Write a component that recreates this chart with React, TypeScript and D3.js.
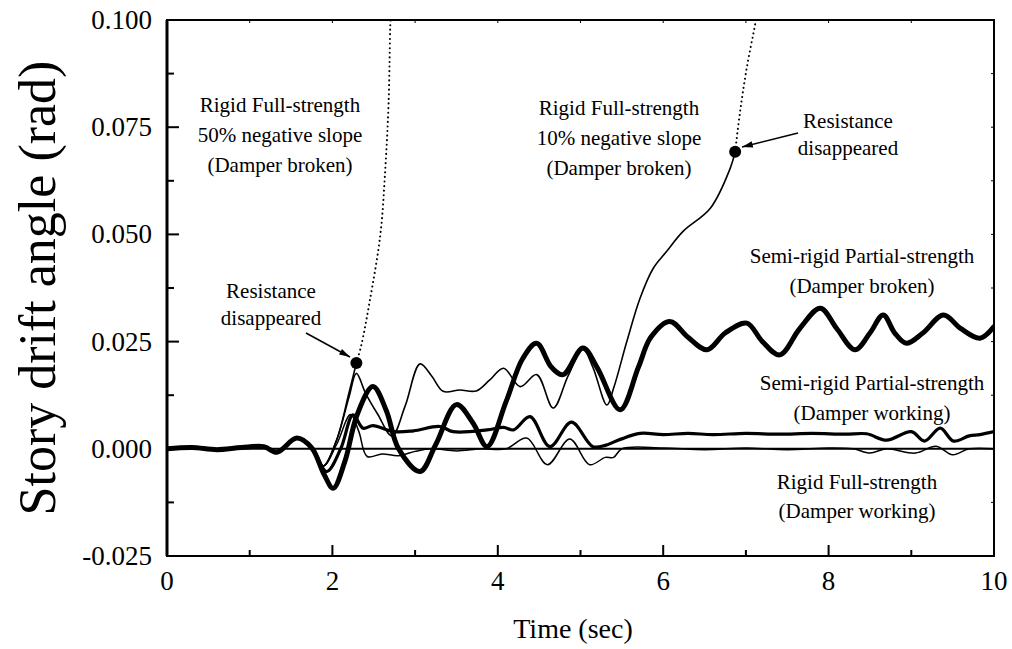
import React from "react";
import * as d3 from "d3";

type P = [number, number];

// ---- data (time sec, story drift angle rad) ----
const preEvent: P[] = [
  [0, 0], [0.3, 0.0003], [0.6, -0.0002], [0.9, 0.0003], [1.17, 0.0005],
  [1.33, -0.0008], [1.57, 0.0025], [1.75, 0.0002],
];

const semiBroken: P[] = [
  ...preEvent,
  [1.9, -0.006], [2.01, -0.0092], [2.15, -0.003], [2.3, 0.008], [2.49, 0.0145],
  [2.65, 0.009], [2.8, 0.0], [3.06, -0.0053], [3.25, 0.001], [3.5, 0.0103],
  [3.7, 0.006], [3.87, 0.0005], [4.1, 0.011], [4.3, 0.021], [4.47, 0.0246],
  [4.65, 0.019], [4.79, 0.0173], [5.03, 0.0235], [5.2, 0.019], [5.48, 0.0091],
  [5.7, 0.019], [5.85, 0.026], [6.08, 0.0297], [6.3, 0.026], [6.53, 0.0231],
  [6.75, 0.027], [7.01, 0.0293], [7.2, 0.025], [7.41, 0.0219], [7.65, 0.028],
  [7.9, 0.0328], [8.1, 0.028], [8.32, 0.0231], [8.5, 0.027], [8.66, 0.0312],
  [8.8, 0.027], [8.94, 0.0246], [9.14, 0.027], [9.39, 0.0312], [9.6, 0.028],
  [9.83, 0.0258], [10, 0.0285],
];

const semiWorking: P[] = [
  ...preEvent,
  [1.93, -0.0053], [2.1, 0.0], [2.25, 0.0079], [2.37, 0.0048], [2.49, 0.0054],
  [2.74, 0.004], [2.98, 0.0042], [3.3, 0.0052], [3.46, 0.004], [3.87, 0.0044],
  [4.07, 0.005], [4.19, 0.0044], [4.39, 0.0075], [4.63, 0.0005], [4.89, 0.0062],
  [5.15, 0.0005], [5.3, 0.0008], [5.48, 0.0022], [5.72, 0.0036], [6.0, 0.0033],
  [6.3, 0.0036], [6.6, 0.0033], [7.0, 0.0036], [7.4, 0.0034], [7.8, 0.0036],
  [8.2, 0.0034], [8.46, 0.0035], [8.7, 0.002], [9.0, 0.004], [9.16, 0.0018],
  [9.35, 0.0048], [9.51, 0.0018], [9.7, 0.003], [9.83, 0.0033], [10, 0.004],
];

const rigidWorking: P[] = [
  ...preEvent,
  [1.89, -0.004], [2.05, 0.001], [2.22, 0.008], [2.32, 0.004], [2.42, -0.0018],
  [2.6, -0.0012], [2.8, -0.0016], [3.0, -0.0006], [3.2, 0.0], [3.5, -0.0005],
  [3.8, 0.0], [4.1, 0.0], [4.35, 0.0025], [4.6, -0.0037], [4.87, 0.0023],
  [5.11, -0.0037], [5.3, -0.002], [5.4, -0.002], [5.5, 0.0], [6.0, 0.0002],
  [6.5, -0.0002], [7.0, 0.0002], [7.5, -0.0002], [8.0, 0.0002], [8.3, 0.0],
  [8.5, -0.001], [8.7, 0.0], [9.05, -0.001], [9.3, 0.0006], [9.5, -0.0014],
  [9.7, 0.0], [10, 0.0],
];

const rigid10Solid: P[] = [
  ...preEvent,
  [1.89, -0.004], [2.05, 0.002], [2.2, 0.012], [2.29, 0.0176], [2.4, 0.013],
  [2.55, 0.008], [2.72, 0.003], [2.88, 0.01], [3.06, 0.0198], [3.2, 0.017],
  [3.34, 0.0134], [3.54, 0.0137], [3.74, 0.0135], [3.9, 0.016], [4.07, 0.0188],
  [4.27, 0.0145], [4.47, 0.0173], [4.67, 0.0095], [4.85, 0.017], [5.03, 0.0232],
  [5.15, 0.019], [5.32, 0.0102], [5.4, 0.0141], [5.56, 0.025], [5.72, 0.0351],
  [5.88, 0.0421], [6.04, 0.046], [6.24, 0.0507], [6.57, 0.0561], [6.81, 0.0654],
  [6.87, 0.0693],
];
const rigid10Dotted: P[] = [
  [6.87, 0.0693], [6.93, 0.0787], [7.01, 0.0888], [7.11, 0.0988], [7.125, 0.1005],
];

const rigid50Solid: P[] = [
  ...preEvent,
  [1.89, -0.004], [2.05, 0.002], [2.2, 0.013], [2.29, 0.02],
];
const rigid50Dotted: P[] = [
  [2.29, 0.02], [2.35, 0.0242], [2.45, 0.0343], [2.58, 0.05], [2.64, 0.0654],
  [2.68, 0.081], [2.7, 0.0988], [2.705, 0.1005],
];

const breakPoints: P[] = [[2.29, 0.02], [6.87, 0.0693]];

const xMajor = [0, 2, 4, 6, 8, 10];
const xMinor = [1, 3, 5, 7, 9];
const yMajor = [-0.025, 0, 0.025, 0.05, 0.075, 0.1];
const yMinor = [-0.0125, 0.0125, 0.0375, 0.0625, 0.0875];
const yTickLabels = ["-0.025", "0.000", "0.025", "0.050", "0.075", "0.100"];
const xTickLabels = ["0", "2", "4", "6", "8", "10"];

const FONT = "'Liberation Serif', 'Times New Roman', serif";

export default function App() {
  const W = 1012, H = 649;
  const L = 167, R = 994, T = 20, B = 556;
  const x = d3.scaleLinear().domain([0, 10]).range([L, R]);
  const y = d3.scaleLinear().domain([-0.025, 0.1]).range([B, T]);
  const line = d3
    .line<P>()
    .x((d) => x(d[0]))
    .y((d) => y(d[1]))
    .curve(d3.curveCatmullRom.alpha(0.5));

  const annot = (lines: string[], cx: number, y0: number, dy: number) =>
    lines.map((s, i) => (
      <text key={s + i} x={cx} y={y0 + i * dy} textAnchor="middle" fontSize={21} fontFamily={FONT}>
        {s}
      </text>
    ));

  return (
    <svg width={W} height={H} style={{ position: "absolute", left: 0, top: 0, background: "#fff" }}>
      <defs>
        <clipPath id="plot">
          <rect x={L} y={T} width={R - L} height={B - T} />
        </clipPath>
        <marker id="arr" viewBox="0 0 12 10" refX="12" refY="5" markerWidth="13" markerHeight="9" orient="auto" markerUnits="userSpaceOnUse">
          <path d="M0,1.5 L12,5 L0,8.5 z" fill="#000" />
        </marker>
      </defs>
      <rect x={0} y={0} width={W} height={H} fill="#fff" />

      {/* zero line */}
      <line x1={L} x2={R} y1={y(0)} y2={y(0)} stroke="#000" strokeWidth={2} />

      <g clipPath="url(#plot)" fill="none" stroke="#000" strokeLinejoin="round" strokeLinecap="round">
        <path d={line(rigidWorking) || ""} strokeWidth={1.5} />
        <path d={line(semiWorking) || ""} strokeWidth={3.2} />
        <path d={line(rigid10Solid) || ""} strokeWidth={1.6} />
        <path d={line(rigid50Solid) || ""} strokeWidth={1.6} />
        <path d={line(semiBroken) || ""} strokeWidth={5} />
        <path d={line(rigid10Dotted) || ""} strokeWidth={2} strokeDasharray="0.1 4.5" />
        <path d={line(rigid50Dotted) || ""} strokeWidth={2} strokeDasharray="0.1 4.5" />
      </g>

      {breakPoints.map((p, i) => (
        <circle key={i} cx={x(p[0])} cy={y(p[1])} r={6} fill="#000" />
      ))}

      {/* frame */}
      <rect x={L} y={T} width={R - L} height={B - T} fill="none" stroke="#000" strokeWidth={2} />
      <line x1={L} x2={L} y1={T} y2={B} stroke="#000" strokeWidth={3} />

      {/* ticks */}
      {xMajor.map((v) => (
        <g key={"xM" + v}>
          <line x1={x(v)} x2={x(v)} y1={B} y2={B - 11} stroke="#000" strokeWidth={2} />
          <line x1={x(v)} x2={x(v)} y1={T} y2={T + 3} stroke="#000" strokeWidth={1} />
        </g>
      ))}
      {xMinor.map((v) => (
        <g key={"xm" + v}>
          <line x1={x(v)} x2={x(v)} y1={B} y2={B - 6} stroke="#000" strokeWidth={2} />
          <line x1={x(v)} x2={x(v)} y1={T} y2={T + 3} stroke="#000" strokeWidth={1} />
        </g>
      ))}
      {yMajor.map((v) => (
        <g key={"yM" + v}>
          <line x1={L} x2={L + 12} y1={y(v)} y2={y(v)} stroke="#000" strokeWidth={2} />
          <line x1={R} x2={R - 3} y1={y(v)} y2={y(v)} stroke="#000" strokeWidth={1} />
        </g>
      ))}
      {yMinor.map((v) => (
        <g key={"ym" + v}>
          <line x1={L} x2={L + 7} y1={y(v)} y2={y(v)} stroke="#000" strokeWidth={2} />
          <line x1={R} x2={R - 3} y1={y(v)} y2={y(v)} stroke="#000" strokeWidth={1} />
        </g>
      ))}

      {/* tick labels */}
      {yMajor.map((v, i) => (
        <text key={"yl" + v} x={L - 15} y={y(v) + 9} textAnchor="end" fontSize={27} fontFamily={FONT}>
          {yTickLabels[i]}
        </text>
      ))}
      {xMajor.map((v, i) => (
        <text key={"xl" + v} x={x(v)} y={590} textAnchor="middle" fontSize={27} fontFamily={FONT}>
          {xTickLabels[i]}
        </text>
      ))}

      {/* axis titles */}
      <text x={573} y={638} textAnchor="middle" fontSize={28} fontFamily={FONT}>Time (sec)</text>
      <text transform="translate(55,288) rotate(-90)" textAnchor="middle" fontSize={52} fontFamily={FONT}>
        Story drift angle (rad)
      </text>

      {/* annotations */}
      {annot(["Rigid Full-strength", "50% negative slope", "(Damper broken)"], 280, 112, 30)}
      {annot(["Rigid Full-strength", "10% negative slope", "(Damper broken)"], 619, 115, 30)}
      {annot(["Resistance", "disappeared"], 271, 298, 27)}
      {annot(["Resistance", "disappeared"], 848, 128, 27)}
      {annot(["Semi-rigid Partial-strength", "(Damper broken)"], 862, 263, 30)}
      {annot(["Semi-rigid Partial-strength", "(Damper working)"], 872, 390, 30)}
      {annot(["Rigid Full-strength", "(Damper working)"], 857, 489, 29)}

      {/* arrows */}
      <line x1={306} y1={333} x2={350} y2={357} stroke="#000" strokeWidth={1.5} markerEnd="url(#arr)" />
      <line x1={798} y1={133} x2={742} y2={147} stroke="#000" strokeWidth={1.5} markerEnd="url(#arr)" />
    </svg>
  );
}
